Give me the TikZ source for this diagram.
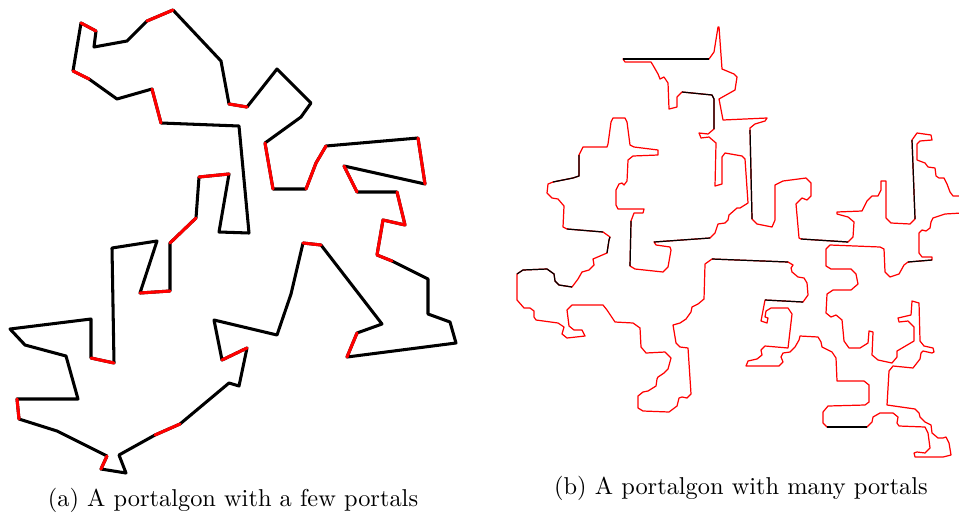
\documentclass[tikz,border=0pt]{standalone}
\begin{document}
\begin{tikzpicture}[x=0.41pt,y=-0.41pt,
  pa/.style={line width=1.25pt,line join=round,line cap=round},
  pb/.style={line width=0.5pt,line join=round}]
\useasboundingbox (0,0) rectangle (959,517);
\clip (0,0) rectangle (959,517);
% ---------- (a) ----------
\draw[pa,black] plot coordinates {(81,23) (96,31) (94,47) (127,41) (147,21) (173,10) (221,61) (229,104) (247,107) (277,69) (311,103) (301,117) (265,143) (273,189) (306,189) (316,163) (326,146) (418,138) (425,184) (344,166) (357,192) (397,192) (405,225) (383,220) (377,255) (392,261) (428,279) (428,314) (450,322) (456,343) (347,357) (357,333) (382,324) (321,245) (303,243) (291,294) (277,335) (214,320) (222,360) (247,348) (239,386) (229,383) (180,424) (155,435) (119,455) (126,473) (101,469) (107,456) (57,431) (19,419) (17,399) (78,399) (66,356) (25,345) (10,329) (91,319) (91,358) (114,363) (112,248) (157,241) (140,293) (170,291) (170,243) (196,218) (199,177) (229,174) (219,232) (249,233) (239,126) (161,123) (152,89) (117,99) (89,79) (73,71)} -- cycle;
\draw[pa,red] (81,23)--(96,31);
\draw[pa,red] (147,21)--(173,10);
\draw[pa,red] (229,104)--(247,107);
\draw[pa,red] (265,143)--(273,189);
\draw[pa,red] (306,189)--(316,163)--(326,146);
\draw[pa,red] (418,138)--(425,184);
\draw[pa,red] (344,166)--(357,192);
\draw[pa,red] (397,192)--(405,225)--(383,220)--(377,255)--(392,261);
\draw[pa,red] (347,357)--(357,333);
\draw[pa,red] (321,245)--(303,243);
\draw[pa,red] (222,360)--(247,348);
\draw[pa,red] (180,424)--(155,435);
\draw[pa,red] (101,469)--(107,456);
\draw[pa,red] (19,419)--(17,399);
\draw[pa,red] (91,358)--(114,363);
\draw[pa,red] (140,293)--(170,291);
\draw[pa,red] (170,243)--(196,218);
\draw[pa,red] (199,177)--(229,174);
\draw[pa,red] (161,123)--(152,89);
\draw[pa,red] (89,79)--(73,71);
% ---------- (b) ----------
\draw[pb,red] plot coordinates {(623,59) (709,59) (714,52) (718,27) (719,27) (722,69) (734,74) (737,77) (735,90) (719,99) (723,120) (767,118) (765,121) (755,124) (750,128) (750,130) (752,219) (757,224) (772,227) (775,220) (775,185) (783,181) (806,178) (811,183) (811,196) (807,200) (802,198) (797,203) (796,204) (799,238) (801,239) (848,242) (853,237) (854,222) (848,217) (837,214) (837,212) (862,211) (867,201) (872,196) (878,196) (881,190) (881,181) (886,181) (886,218) (891,223) (910,224) (915,219) (912,140) (917,133) (931,135) (932,140) (920,141) (917,144) (917,160) (925,163) (928,167) (935,168) (936,176) (939,178) (944,178) (947,184) (950,192) (953,196) (962,196) (962,213) (945,214) (933,218) (931,222) (930,228) (926,231) (922,230) (919,233) (919,253) (922,257) (932,257) (932,260) (908,262) (904,265) (899,274) (890,277) (885,272) (884,249) (880,247) (830,245) (826,249) (826,266) (831,269) (851,269) (856,274) (858,284) (851,290) (833,290) (827,294) (826,313) (831,317) (836,315) (842,320) (844,341) (849,348) (860,348) (868,343) (869,331) (873,332) (872,355) (878,360) (892,363) (897,357) (897,351) (914,341) (914,327) (908,321) (899,322) (898,318) (911,315) (912,301) (919,303) (920,341) (924,346) (933,348) (934,352) (932,353) (923,351) (921,353) (920,359) (913,368) (893,366) (889,371) (887,405) (915,409) (919,413) (920,417) (925,422) (931,425) (932,433) (938,438) (943,438) (946,437) (949,443) (951,455) (943,457) (915,457) (914,453) (917,452) (925,453) (930,448) (928,433) (925,427) (899,426) (897,423) (898,417) (893,413) (880,413) (873,417) (872,422) (867,427) (827,427) (823,423) (823,412) (828,406) (865,405) (869,402) (869,385) (864,381) (837,381) (836,358) (832,352) (822,347) (821,342) (818,337) (800,336) (799,340) (795,347) (790,352) (783,353) (781,357) (783,362) (779,366) (746,366) (748,361) (757,359) (762,355) (761,350) (765,346) (788,348) (792,314) (788,308) (771,308) (766,311) (765,317) (768,318) (767,323) (761,321) (765,300) (803,302) (808,295) (807,283) (804,278) (798,277) (792,272) (791,268) (793,265) (788,262) (712,259) (705,264) (704,299) (698,304) (692,307) (691,312) (686,319) (680,323) (673,325) (676,343) (680,347) (688,348) (691,394) (687,398) (682,397) (679,398) (677,406) (669,412) (643,411) (638,408) (638,396) (643,392) (648,391) (656,386) (657,379) (658,377) (664,373) (668,369) (671,358) (665,352) (646,353) (641,347) (640,328) (633,323) (615,322) (607,310) (603,305) (572,305) (567,310) (569,326) (574,330) (582,330) (585,336) (567,338) (562,334) (564,327) (558,323) (536,320) (534,317) (534,311) (530,308) (524,308) (517,300) (517,274) (523,270) (547,269) (554,274) (555,281) (559,285) (572,287) (578,279) (582,272) (589,270) (594,265) (593,259) (607,253) (609,240) (610,237) (603,232) (567,229) (563,227) (564,206) (558,199) (552,198) (547,193) (548,184) (553,182) (573,178) (579,176) (579,155) (583,147) (607,147) (608,144) (611,122) (613,118) (625,118) (627,122) (630,145) (634,147) (658,150) (658,155) (633,156) (628,160) (627,181) (624,185) (622,183) (619,184) (616,190) (616,205) (618,209) (644,209) (643,213) (634,213) (631,221) (630,266) (635,269) (663,272) (668,267) (671,250) (670,247) (656,245) (654,242) (710,238) (715,233) (718,224) (725,223) (728,220) (729,215) (737,208) (740,208) (748,203) (745,159) (742,156) (725,153) (722,157) (722,184) (715,186) (716,143) (709,137) (701,138) (699,133) (708,134) (714,129) (714,99) (712,95) (682,92) (677,97) (677,107) (669,109) (668,83) (664,77) (660,79) (658,74) (654,67) (651,62) (625,62)} -- cycle;
\draw[pb,black] (623,59)--(709,59);
\draw[pb,black] (714,129)--(714,99)--(712,95)--(682,92);
\draw[pb,black] (750,130)--(752,219);
\draw[pb,black] (801,239)--(848,242);
\draw[pb,black] (915,219)--(912,140);
\draw[pb,black] (932,260)--(908,262);
\draw[pb,black] (867,427)--(827,427);
\draw[pb,black] (765,300)--(803,302);
\draw[pb,black] (788,262)--(712,259);
\draw[pb,black] (517,274)--(523,270)--(547,269)--(554,274)--(555,281)--(559,285)--(572,287);
\draw[pb,black] (607,253)--(609,240)--(610,237);
\draw[pb,black] (603,232)--(567,229);
\draw[pb,black] (553,182)--(573,178)--(579,176)--(579,155);
\draw[pb,black] (631,221)--(630,266);
\draw[pb,black] (654,242)--(710,238);
% ---------- captions ----------
\node (capa) at (233,500) {(a) A portalgon with a few portals};
\node (capb) at (741,488) {(b) A portalgon with many portals};
\end{tikzpicture}
\end{document}
